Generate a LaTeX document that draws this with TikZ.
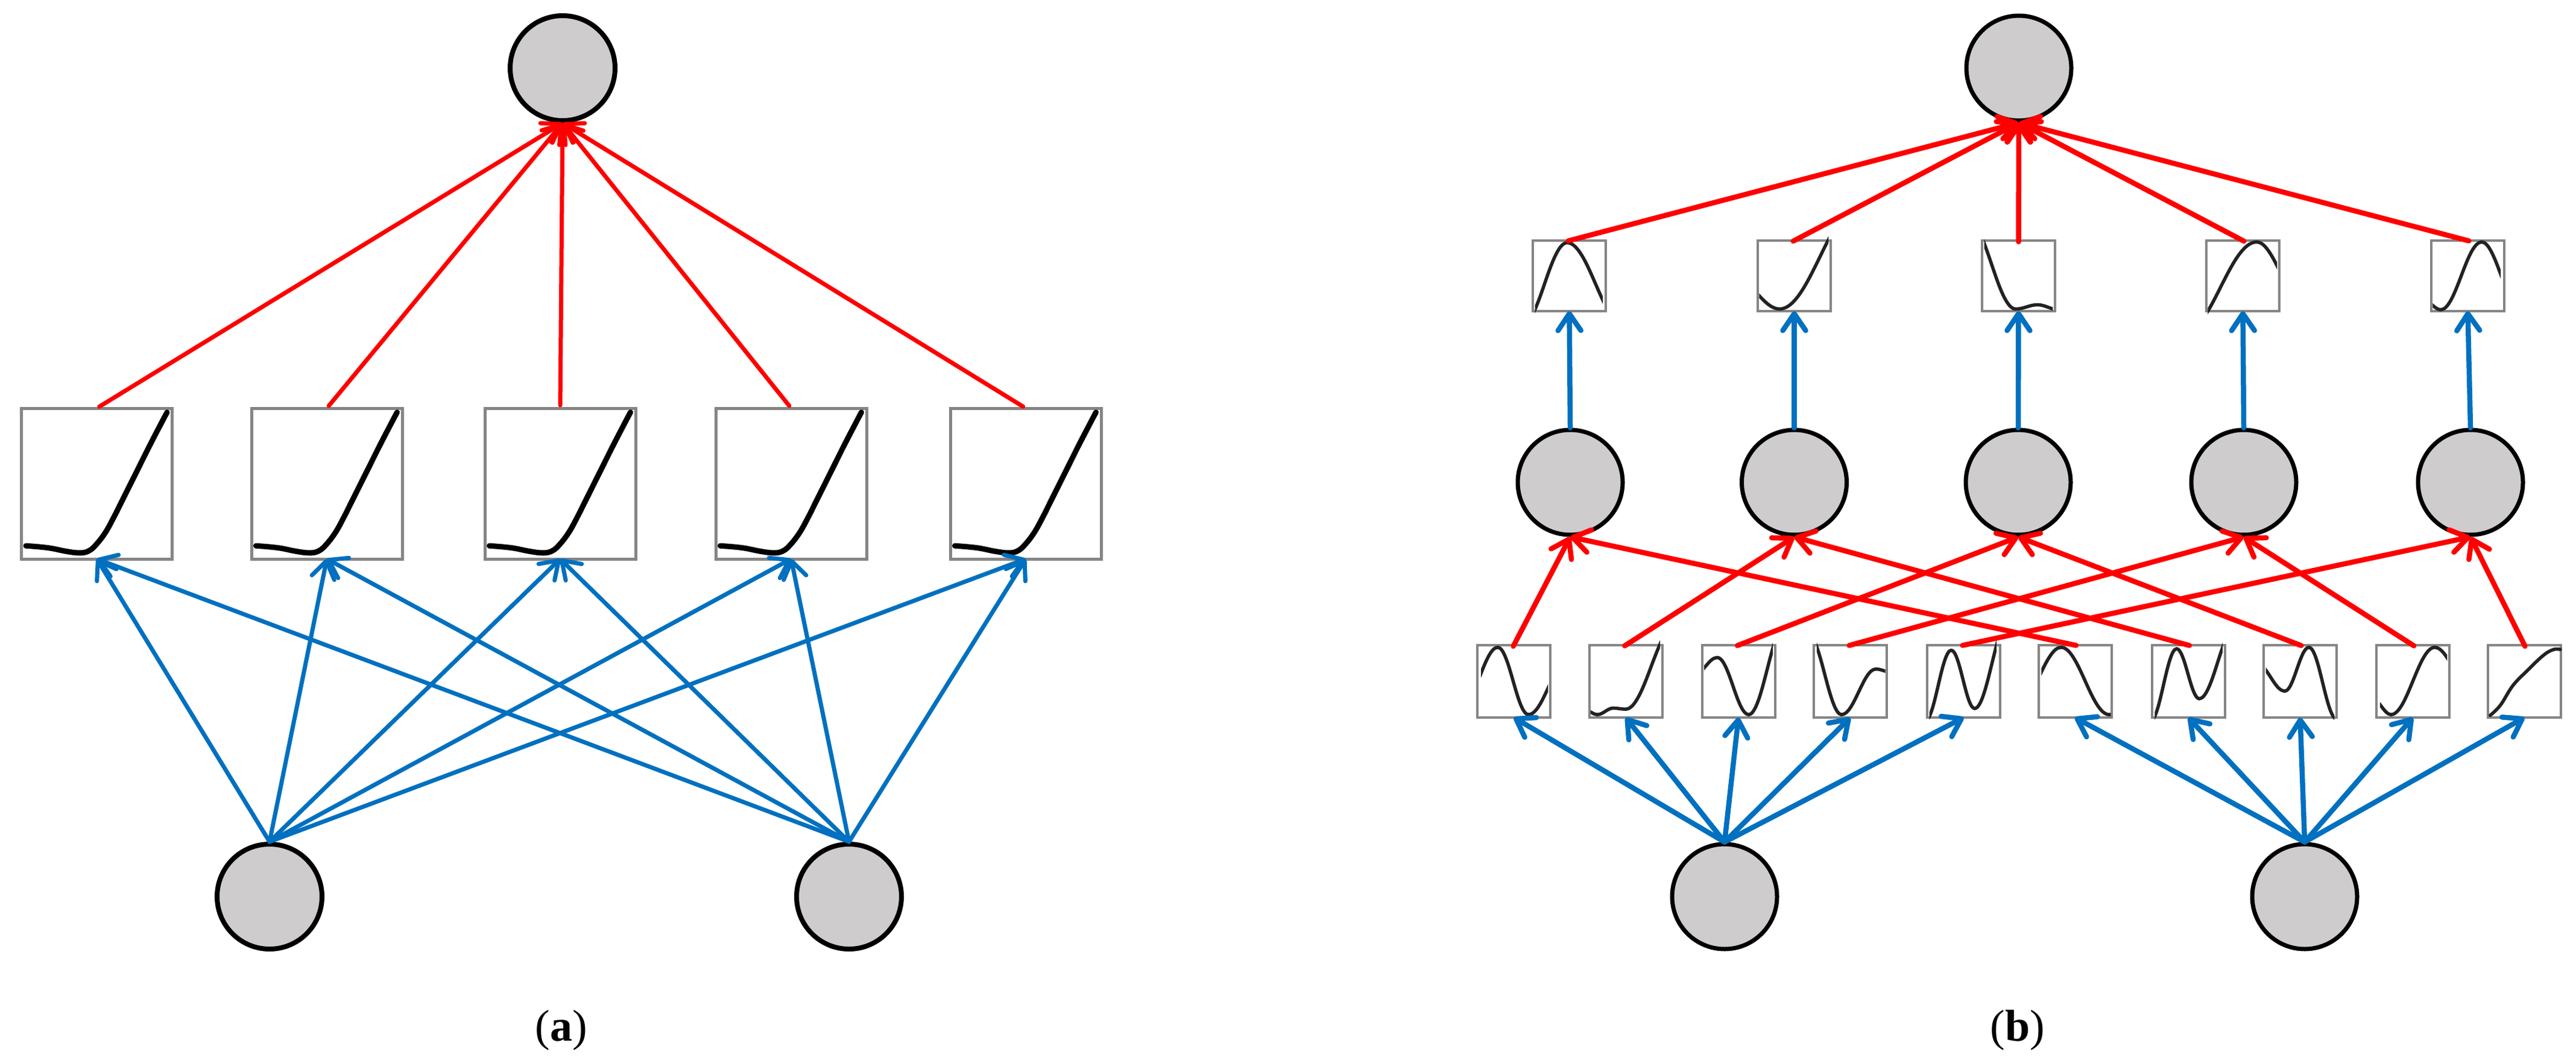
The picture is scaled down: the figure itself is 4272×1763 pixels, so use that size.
\documentclass[tikz,border=0pt]{standalone}
\usepackage{fontspec}
\setmainfont{Liberation Serif}
\usetikzlibrary{arrows.meta}
\definecolor{linkblue}{HTML}{0070C0}
\definecolor{linkred}{HTML}{FF0000}
\definecolor{nodegray}{HTML}{CECCCC}
\definecolor{framegray}{HTML}{858585}
\definecolor{curvegray}{HTML}{222222}
\tikzset{
  neuronA/.style={circle,draw=black,fill=nodegray,line width=8pt,minimum size=174pt,inner sep=0pt,outer sep=4pt},
  neuronB/.style={circle,draw=black,fill=nodegray,line width=7pt,minimum size=174pt,inner sep=0pt,outer sep=3.5pt},
  fnboxA/.style={rectangle,draw=framegray,line width=5pt,fill=white,minimum width=250pt,minimum height=250pt,inner sep=0pt,outer sep=0pt},
  fnboxB/.style={rectangle,draw=framegray,line width=4pt,fill=white,inner sep=0pt,outer sep=0pt},
  curveA/.style={black,line width=9pt,line cap=round,line join=round},
  curveB/.style={curvegray,line width=5.5pt,line cap=round,line join=round},
  link/.style={line cap=round,-{Straight Barb[length=28pt,width=38pt,round]}},
  redA/.style={link,draw=linkred,line width=7pt,shorten <=5pt},
  redB/.style={link,draw=linkred,line width=8.5pt,shorten <=-2pt},
  blueA/.style={link,draw=linkblue,line width=7pt},
  blueB/.style={link,draw=linkblue,line width=8.5pt},
  caption/.style={font=\fontsize{74}{80}\selectfont,inner sep=0pt,text=black}
}
% box name, curve style, width, height, points
\newcommand{\fncurve}[5]{%
  \begin{scope}[shift={(#1.north west)},x=#3pt,y=-#4pt]
    \draw[#2] plot[smooth,tension=0.65] coordinates {#5};
  \end{scope}}
% box name, width, height, left and right limit, extrema u/v
\newcommand{\fnwave}[6]{%
  \begin{scope}[shift={(#1.north west)},x=#2pt,y=-#3pt]
    \clip (#4,-.2) rectangle (#5,1.2);
    \foreach \u/\v [count=\i, remember=\u as \pu (initially 0), remember=\v as \pv (initially 0)] in {#6}{
      \ifnum\i>1
        \draw[curveB] (\pu,\pv) .. controls ({\pu+.37*(\u-\pu)},\pv) and ({\u-.37*(\u-\pu)},\v) .. (\u,\v);
      \fi
    }
  \end{scope}}
\begin{document}
\begin{tikzpicture}[x=1pt,y=-1pt]
\useasboundingbox (0,0) rectangle (4272,1763);
\fill[white] (0,0) rectangle (4272,1763);

% ---------- panel (a)
\node[neuronA] (atop) at (933,113) {};
\node[neuronA] (ain1) at (447,1487) {};
\node[neuronA] (ain2) at (1408,1487) {};
\foreach \n/\x in {a1/160.5,a2/542,a3/929,a4/1312,a5/1701}{
  \node[fnboxA] (\n) at (\x,802) {};
  \fncurve{\n}{curveA}{250}{250}{(.03,.913)(.12,.92)(.2,.93)(.30,.95)(.39,.96)(.45,.945)(.50,.90)(.56,.82)(.62,.71)(.66,.63)(.76,.43)(.86,.23)(.966,.027)}
}
\foreach \n in {a1,a2,a3,a4,a5}{
  \draw[redA] (\n.north) -- (atop.south);
  \draw[blueA] (ain1.north) -- (\n.south);
  \draw[blueA] (ain2.north) -- (\n.south);
}
\node[caption] (capa) at (931,1709) {(\textbf{a})};

% ---------- panel (b)
\node[neuronB] (btop) at (3348,113) {};
\node[neuronB] (bin1) at (2860,1487) {};
\node[neuronB] (bin2) at (3822,1487) {};
\foreach \n/\x in {m1/2604,m2/2975.5,m3/3347,m4/3721,m5/4097}{
  \node[neuronB] (\n) at (\x,800) {};
}
% top row of curves
\foreach \n/\x in {t1/2602.5,t2/2975.5,t3/3347.5,t4/3719.5,t5/4092.5}{
  \node[fnboxB,minimum width=121pt,minimum height=117pt] (\n) at (\x,457.5) {};
}
\fnwave{t1}{121}{117}{.03}{.96}{-.15/1.2,.47/.03,1.25/1.2}
\fnwave{t2}{121}{117}{.02}{.97}{-.3/.55,.30/.97,1.4/-.5}
\fnwave{t3}{121}{117}{.03}{.97}{-.2/-.3,.46/.97,.76/.91,1.05/.98}
\fnwave{t4}{121}{117}{.02}{.97}{-.3/1.3,.69/.02,1.3/.8}
\fnwave{t5}{121}{117}{.02}{.95}{-.1/.85,.13/.98,.69/.02,1.2/.9}
% bottom row of curves
\foreach \n/\x in {s1/2510.5,s2/2696,s3/2883,s4/3068.5,s5/3256.5,s6/3441,s7/3629,s8/3814.5,s9/4001.5,s10/4186.5}{
  \node[fnboxB,minimum width=121pt,minimum height=120pt] (\n) at (\x,1130) {};
}
\fnwave{s1}{121}{120}{.05}{.97}{-.2/.8,.28/.03,.70/.96,1.25/.2}
\fnwave{s2}{121}{120}{.02}{.97}{-.05/.9,.11/.96,.33/.87,.50/.885,1.2/-.3}
\fnwave{s3}{121}{120}{.03}{.97}{-.1/.40,.21/.17,.64/.96,1.15/-.3}
\fnwave{s4}{121}{120}{.04}{.98}{-.08/-.15,.38/.96,.85/.33,1.05/.37}
\fnwave{s5}{121}{120}{.03}{.95}{-.03/1.05,.33/.07,.65/.875,1.12/-.35}
\fnwave{s6}{121}{120}{.04}{.99}{-.25/.75,.31/.03,.97/.96,1.2/.9}
\fnwave{s7}{121}{120}{.04}{.97}{-.02/1.05,.34/.05,.65/.74,1.15/-.25}
\fnwave{s8}{121}{120}{.03}{.97}{-.1/.25,.29/.635,.62/.03,1.0/1.02}
\fnwave{s9}{121}{120}{.05}{.97}{-.05/.75,.20/.96,.80/.03,1.3/.6}
\fncurve{s10}{curveB}{121}{120}{(.03,.97)(.17,.83)(.34,.56)(.54,.35)(.76,.14)(.90,.06)(.99,.06)}
% connectors
\foreach \i in {1,...,5}{
  \draw[redB] (t\i.north) -- (btop.south);
  \draw[blueB] (m\i.north) -- (t\i.south);
}
\foreach \s in {s1,s2,s3,s4,s5}{\draw[blueB] (bin1.north) -- (\s.south);}
\foreach \s in {s6,s7,s8,s9,s10}{\draw[blueB] (bin2.north) -- (\s.south);}
\foreach \s/\m in {s1/m1,s2/m2,s3/m3,s4/m4,s5/m5,s6/m1,s7/m2,s8/m3,s9/m4,s10/m5}{
  \draw[redB] (\s.north) -- (\m.south);
}
\node[caption] (capb) at (3346,1709) {(\textbf{b})};
\end{tikzpicture}
\end{document}
